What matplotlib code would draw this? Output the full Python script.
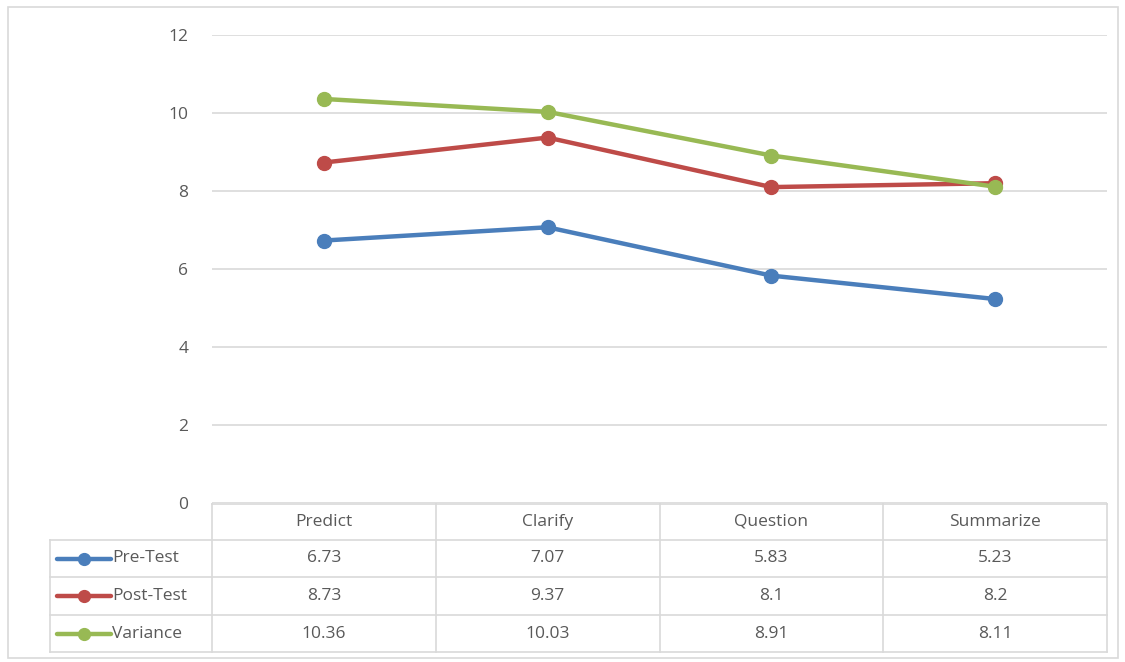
import numpy as np
import matplotlib.pyplot as plt
import matplotlib.transforms as mtransforms
from matplotlib.patches import Rectangle
from matplotlib.lines import Line2D

# chart data
categories = ["Predict", "Clarify", "Question", "Summarize"]
series_names = ["Pre-Test", "Post-Test", "Variance"]
pre_test = [6.73, 7.07, 5.83, 5.23]
post_test = [8.73, 9.37, 8.1, 8.2]
variance = [10.36, 10.03, 8.91, 8.11]
y_ticks = [0, 2, 4, 6, 8, 10, 12]

series_values = [pre_test, post_test, variance]
colors = ["#4a7ebb", "#be4b48", "#98b954"]
text_color = "#595959"
grid_color = "#d9d9d9"
fs = 12.5

plt.rcParams['font.family'] = ['Open Sans', 'DejaVu Sans']

W, H = 1125, 662
fig = plt.figure(figsize=(W / 100, H / 100), dpi=100)

# outer chart border
fig.patches.append(Rectangle((8 / W, 1 - 658 / H), 1110 / W, 651 / H,
                             transform=fig.transFigure, fill=False,
                             edgecolor=grid_color, lw=1.2))

# plot area (pixel box: x 212..1107, y 35..503)
ax = fig.add_axes([212 / W, 1 - 503 / H, (1107 - 212) / W, (503 - 35) / H])
x = np.arange(len(categories))
for name, vals, c in zip(series_names, series_values, colors):
    ax.plot(x, vals, color=c, lw=3.2, marker="o", ms=10, solid_capstyle="round")

ax.set_xlim(-0.5, len(categories) - 0.5)
ax.set_ylim(0, 12)
ax.set_yticks(y_ticks)
ax.set_xticks([])
ax.yaxis.grid(True, color=grid_color, lw=1.2)
ax.set_axisbelow(True)
for s in ax.spines.values():
    s.set_visible(False)
ax.tick_params(axis="y", length=0, pad=17, labelsize=fs, labelcolor=text_color)

# data table below the plot: x in data units, y in pixels from the top
pix = mtransforms.Affine2D().scale(1 / W, -1 / H).translate(0, 1) + fig.transFigure
trans = mtransforms.blended_transform_factory(ax.transData, pix)
row_edges = [504, 540, 577, 615, 652]
legend_left = -0.5 - 162 / 224.0
right = len(categories) - 0.5

def hline(x0, x1, y):
    fig.add_artist(Line2D([x0, x1], [y, y], transform=trans, color=grid_color, lw=1.2))

def vline(xx, y0, y1):
    fig.add_artist(Line2D([xx, xx], [y0, y1], transform=trans, color=grid_color, lw=1.2))

hline(-0.5, right, row_edges[0])
for y in row_edges[1:]:
    hline(legend_left, right, y)
vline(legend_left, row_edges[1], row_edges[-1])
for i in range(len(categories) + 1):
    vline(i - 0.5, row_edges[0], row_edges[-1])

for i, cat in enumerate(categories):
    fig.text(i, (row_edges[0] + row_edges[1]) / 2, cat, transform=trans,
             ha="center", va="center", fontsize=fs, color=text_color)

for r, (name, vals, c) in enumerate(zip(series_names, series_values, colors)):
    yc = (row_edges[r + 1] + row_edges[r + 2]) / 2
    for i, v in enumerate(vals):
        fig.text(i, yc, f"{v:g}", transform=trans, ha="center", va="center",
                 fontsize=fs, color=text_color)
    # legend key inside the table
    fig.add_artist(Line2D([57 / W, 111 / W], [1 - yc / H, 1 - yc / H],
                          transform=fig.transFigure, color=c, lw=3.2,
                          solid_capstyle="round"))
    fig.add_artist(Line2D([84 / W], [1 - yc / H], transform=fig.transFigure,
                          color=c, marker="o", ms=8.5, lw=0))
    fig.text(112 / W, 1 - yc / H, name, ha="left", va="center",
             fontsize=fs, color=text_color)

fig.savefig("out.png", dpi=100)
